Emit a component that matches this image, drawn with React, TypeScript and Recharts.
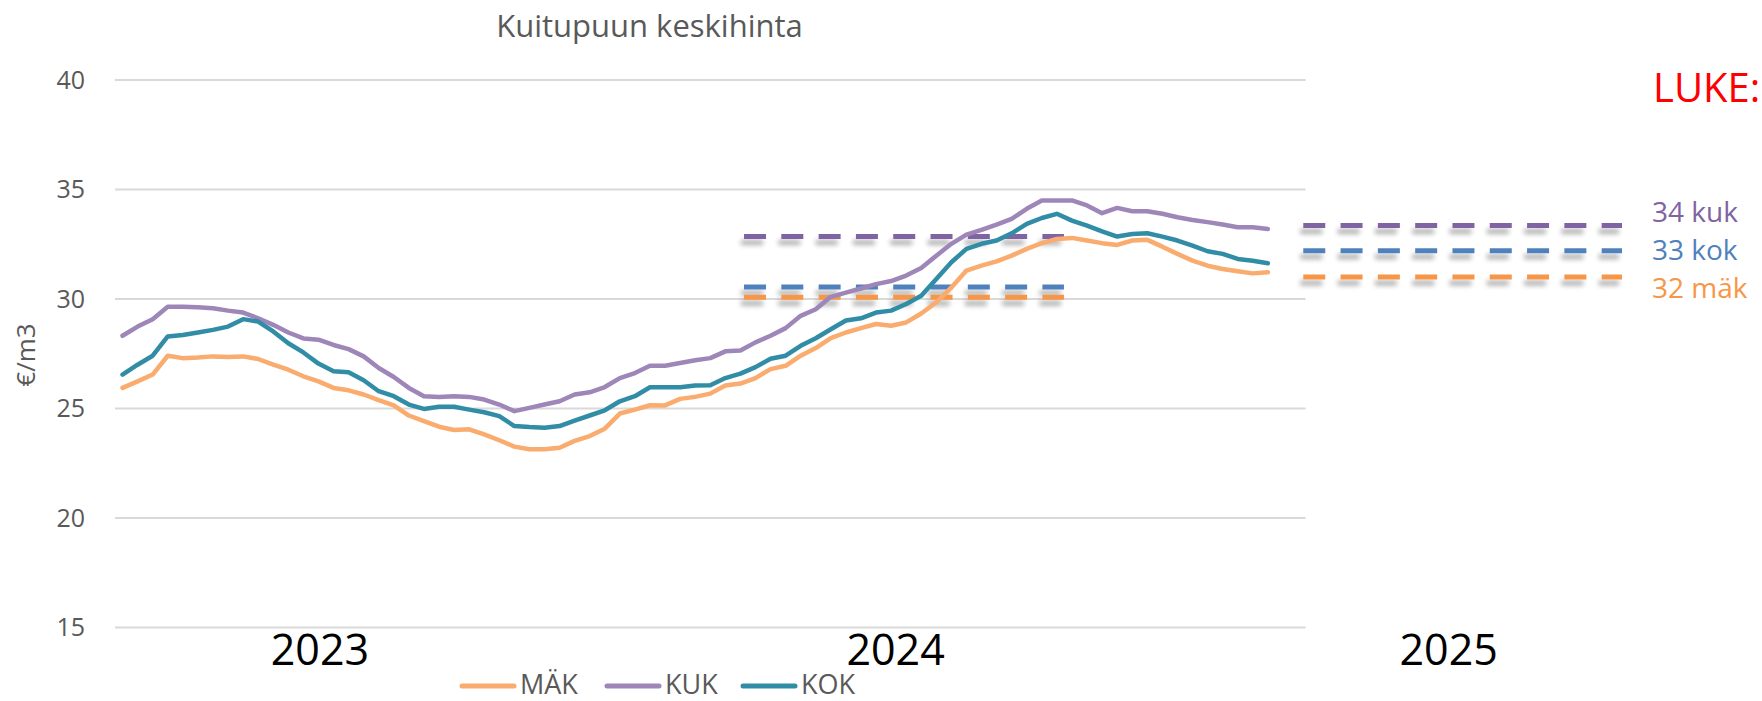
import React from 'react';
import { LineChart, Line, XAxis, YAxis, ReferenceLine } from 'recharts';

const MAK = [
  25.94, 26.24, 26.55, 27.41, 27.3, 27.33, 27.38, 27.35, 27.38, 27.26,
  27.0, 26.77, 26.47, 26.24, 25.94, 25.83, 25.64, 25.38, 25.14, 24.68,
  24.42, 24.17, 24.02, 24.05, 23.82, 23.55, 23.26, 23.14, 23.14, 23.21,
  23.52, 23.74, 24.08, 24.77, 24.95, 25.15, 25.14, 25.44, 25.53, 25.68,
  26.05, 26.14, 26.39, 26.8, 26.95, 27.41, 27.76, 28.21, 28.47, 28.67,
  28.86, 28.78, 28.93, 29.34, 29.85, 30.53, 31.3, 31.52, 31.72, 31.98,
  32.29, 32.55, 32.74, 32.79, 32.67, 32.55, 32.47, 32.67, 32.7, 32.39,
  32.06, 31.75, 31.52, 31.37, 31.27, 31.17, 31.22,
];
const KUK = [
  28.32, 28.74, 29.08, 29.65, 29.65, 29.62, 29.58, 29.47, 29.38, 29.12,
  28.82, 28.47, 28.2, 28.14, 27.9, 27.71, 27.38, 26.85, 26.44, 25.94,
  25.56, 25.53, 25.56, 25.53, 25.41, 25.18, 24.88, 25.03, 25.18, 25.33,
  25.64, 25.74, 25.98, 26.39, 26.62, 26.95, 26.95, 27.08, 27.2, 27.3,
  27.61, 27.65, 28.02, 28.32, 28.67, 29.23, 29.53, 30.1, 30.29, 30.48,
  30.68, 30.82, 31.07, 31.42, 31.98, 32.52, 32.94, 33.16, 33.4, 33.66,
  34.12, 34.5, 34.5, 34.5, 34.27, 33.92, 34.16, 34.01, 34.01, 33.89,
  33.73, 33.61, 33.51, 33.4, 33.28, 33.28, 33.2,
];
const KOK = [
  26.55, 27.0, 27.41, 28.29, 28.36, 28.47, 28.59, 28.74, 29.08, 28.97,
  28.52, 27.98, 27.56, 27.05, 26.7, 26.65, 26.29, 25.79, 25.56, 25.18,
  24.98, 25.08, 25.08, 24.95, 24.83, 24.65, 24.2, 24.15, 24.12, 24.2,
  24.45, 24.68, 24.92, 25.33, 25.56, 25.97, 25.97, 25.97, 26.05, 26.06,
  26.39, 26.59, 26.89, 27.27, 27.41, 27.86, 28.21, 28.62, 29.02, 29.12,
  29.38, 29.47, 29.77, 30.15, 30.91, 31.68, 32.29, 32.52, 32.67, 33.0,
  33.43, 33.7, 33.89, 33.58, 33.35, 33.09, 32.85, 32.97, 33.0, 32.85,
  32.67, 32.44, 32.18, 32.06, 31.83, 31.75, 31.63,
];

const seriesNames = ['MÄK', 'KUK', 'KOK'];
const seriesColors = ['#FAAB6E', '#9E86B9', '#318DA6'];
const yTicks = [15, 20, 25, 30, 35, 40];
const yearLabels = ['2023', '2024', '2025'];
const lukeLabels = ['34 kuk', '33 kok', '32 mäk'];
const lukeValues = [33.36, 32.2, 31.0];
const earlierValues = [32.85, 30.55, 30.08];
const dashColors = ['#8064A2', '#4F81BD', '#F79646'];
const title = 'Kuitupuun keskihinta';
const yLabel = '€/m3';
const lukeTitle = 'LUKE:';

const data = MAK.map((v, i) => ({ x: i + 0.5, 'MÄK': v, KUK: KUK[i], KOK: KOK[i] }));

const yearPos = [13.6, 51.8, 88.5];
const FONT = '"Open Sans", sans-serif';

export default function App() {
  const legendX = [462, 607, 743];
  const lukeBaselines = [222, 260, 298];
  return (
    <div style={{ position: 'absolute', left: 0, top: 0, width: 1762, height: 701, background: '#fff', overflow: 'hidden' }}>
      <svg width={0} height={0} style={{ position: 'absolute' }}>
        <defs>
          <filter id="dashShadow" filterUnits="userSpaceOnUse" x={0} y={0} width={1762} height={701}>
            <feGaussianBlur in="SourceAlpha" stdDeviation={2.6} result="b" />
            <feOffset in="b" dx={-3} dy={6} result="o" />
            <feComponentTransfer in="o" result="s">
              <feFuncA type="linear" slope={0.32} />
            </feComponentTransfer>
            <feMerge>
              <feMergeNode in="s" />
              <feMergeNode in="SourceGraphic" />
            </feMerge>
          </filter>
        </defs>
      </svg>
      <LineChart width={1762} height={701} data={data} margin={{ top: 80, right: 140, left: 40, bottom: 33.5 }}>
        <XAxis
          type="number"
          dataKey="x"
          domain={[0, 100]}
          ticks={yearPos}
          interval={0}
          axisLine={false}
          tickLine={false}
          tickSize={0}
          tickMargin={7}
          height={40}
          allowDataOverflow
          tickFormatter={(v: number) => yearLabels[yearPos.indexOf(v)]}
          tick={{ fontSize: 43, fill: '#000', fontFamily: FONT }}
        />
        <YAxis
          type="number"
          domain={[15, 40]}
          ticks={yTicks}
          width={75}
          axisLine={false}
          tickLine={false}
          tickSize={0}
          tickMargin={30}
          interval={0}
          tick={{ fontSize: 25, fill: '#595959', fontFamily: FONT }}
        />
        {yTicks.map((t) => (
          <ReferenceLine
            key={'g' + t}
            segment={[{ x: 0, y: t }, { x: 79, y: t }]}
            stroke="#D9D9D9"
            strokeWidth={2}
          />
        ))}
        {earlierValues.map((v, i) => (
          <ReferenceLine
            key={'e' + i}
            segment={[{ x: 41.74, y: v }, { x: 62.97, y: v }]}
            stroke={dashColors[i]}
            strokeWidth={5}
            strokeDasharray="22 15.3"
            filter="url(#dashShadow)"
          />
        ))}
        {lukeValues.map((v, i) => (
          <ReferenceLine
            key={'l' + i}
            segment={[{ x: 78.85, y: v }, { x: 100, y: v }]}
            stroke={dashColors[i]}
            strokeWidth={5}
            strokeDasharray="22 15.3"
            filter="url(#dashShadow)"
          />
        ))}
        {seriesNames.map((n, i) => (
          <Line
            key={n}
            type="linear"
            dataKey={n}
            stroke={seriesColors[i]}
            strokeWidth={4.5}
            strokeLinejoin="round"
            strokeLinecap="round"
            dot={false}
            activeDot={false}
            isAnimationActive={false}
          />
        ))}
      </LineChart>
      <svg width={1762} height={701} style={{ position: 'absolute', left: 0, top: 0, pointerEvents: 'none' }}>
        <text x={649.5} y={37} textAnchor="middle" fontFamily={FONT} fontSize={31} fill="#595959">{title}</text>
        <text x={1653} y={102} fontFamily={FONT} fontSize={40} fill="#FF0000">{lukeTitle}</text>
        {lukeLabels.map((l, i) => (
          <text key={l} x={1652} y={lukeBaselines[i]} fontFamily={FONT} fontSize={28} fill={dashColors[i]}>{l}</text>
        ))}
        <text x={0} y={0} transform="translate(35,355) rotate(-90)" textAnchor="middle" fontFamily={FONT} fontSize={26} fill="#595959">{yLabel}</text>
        {seriesNames.map((n, i) => (
          <g key={n}>
            <line x1={legendX[i]} x2={legendX[i] + 52} y1={686} y2={686} stroke={seriesColors[i]} strokeWidth={5} strokeLinecap="round" />
            <text x={legendX[i] + 58} y={694} fontFamily={FONT} fontSize={27} fill="#595959">{n}</text>
          </g>
        ))}
      </svg>
    </div>
  );
}
